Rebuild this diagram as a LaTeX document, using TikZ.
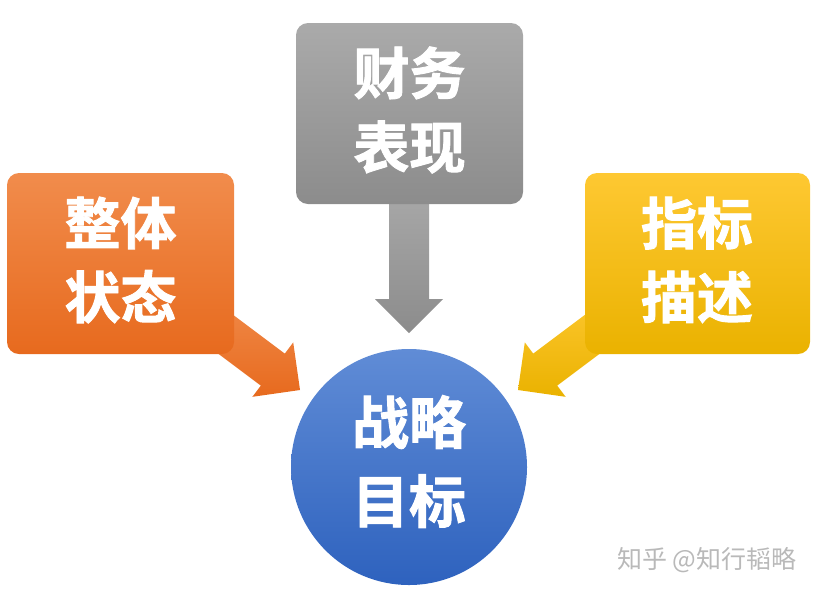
\documentclass[tikz,border=0pt]{standalone}
\usepackage{fontspec}
\newfontfamily\cjk[BoldFont={* Bold}]{Noto Sans CJK SC}
\newfontfamily\cjkheavy[FakeBold=1.6]{Noto Sans CJK SC Bold}
\definecolor{orT}{RGB}{241,140,76}
\definecolor{orB}{RGB}{231,106,30}
\definecolor{grT}{RGB}{170,170,170}
\definecolor{grB}{RGB}{140,140,140}
\definecolor{yeT}{RGB}{254,200,50}
\definecolor{yeB}{RGB}{234,178,0}
\definecolor{blT}{RGB}{96,140,214}
\definecolor{blB}{RGB}{46,98,190}
\definecolor{wm}{RGB}{185,185,185}
\tikzset{
  boxlabel/.style={text=white, align=center, font=\cjkheavy\fontsize{56}{74}\selectfont, inner sep=0pt},
  circlabel/.style={boxlabel, font=\cjkheavy\fontsize{57}{79}\selectfont},
  card/.style={rounded corners=12pt},
}
\begin{document}
\begin{tikzpicture}[x=1pt,y=-1pt]
\useasboundingbox (0,0) rectangle (818,595);
% arrows (behind boxes)
\shade[top color=orT, bottom color=orB]
  (200,290) -- (284.8,353.6) -- (293.2,342.4) -- (300,390) -- (252.4,396.8) -- (260.8,385.6) -- (176,322) -- cycle;
\shade[top color=yeT, bottom color=yeB]
  (618,290) -- (533.2,353.6) -- (524.8,342.4) -- (518,390) -- (565.6,396.8) -- (557.2,385.6) -- (642,322) -- cycle;
\shade[top color=grT, bottom color=grB]
  (389,180) -- (429,180) -- (429,299) -- (443,299) -- (409,333) -- (375,299) -- (389,299) -- cycle;
% boxes
\shade[card, top color=orT, bottom color=orB] (7,173) rectangle (234,354);
\shade[card, top color=grT, bottom color=grB] (296,23) rectangle (523,204);
\shade[card, top color=yeT, bottom color=yeB] (585,173) rectangle (810,354);
\shade[top color=blT, bottom color=blB] (409,467) circle (118);
% nodes
\coordinate (o) at (120.5,260);
\coordinate (g) at (409.5,110);
\coordinate (y) at (697,260);
\coordinate (b) at (409,461.5);
\node[boxlabel] (ot) at (o) {整体\\状态};
\node[boxlabel] (gt) at (g) {财务\\表现};
\node[boxlabel] (yt) at (y) {指标\\描述};
\node[circlabel] (bt) at (b) {战略\\目标};
\node[text=wm, font=\cjk\fontsize{25}{28}\selectfont, inner sep=0pt] (wmk) at (707,560) {知乎 @知行韬略};
\end{tikzpicture}
\end{document}
